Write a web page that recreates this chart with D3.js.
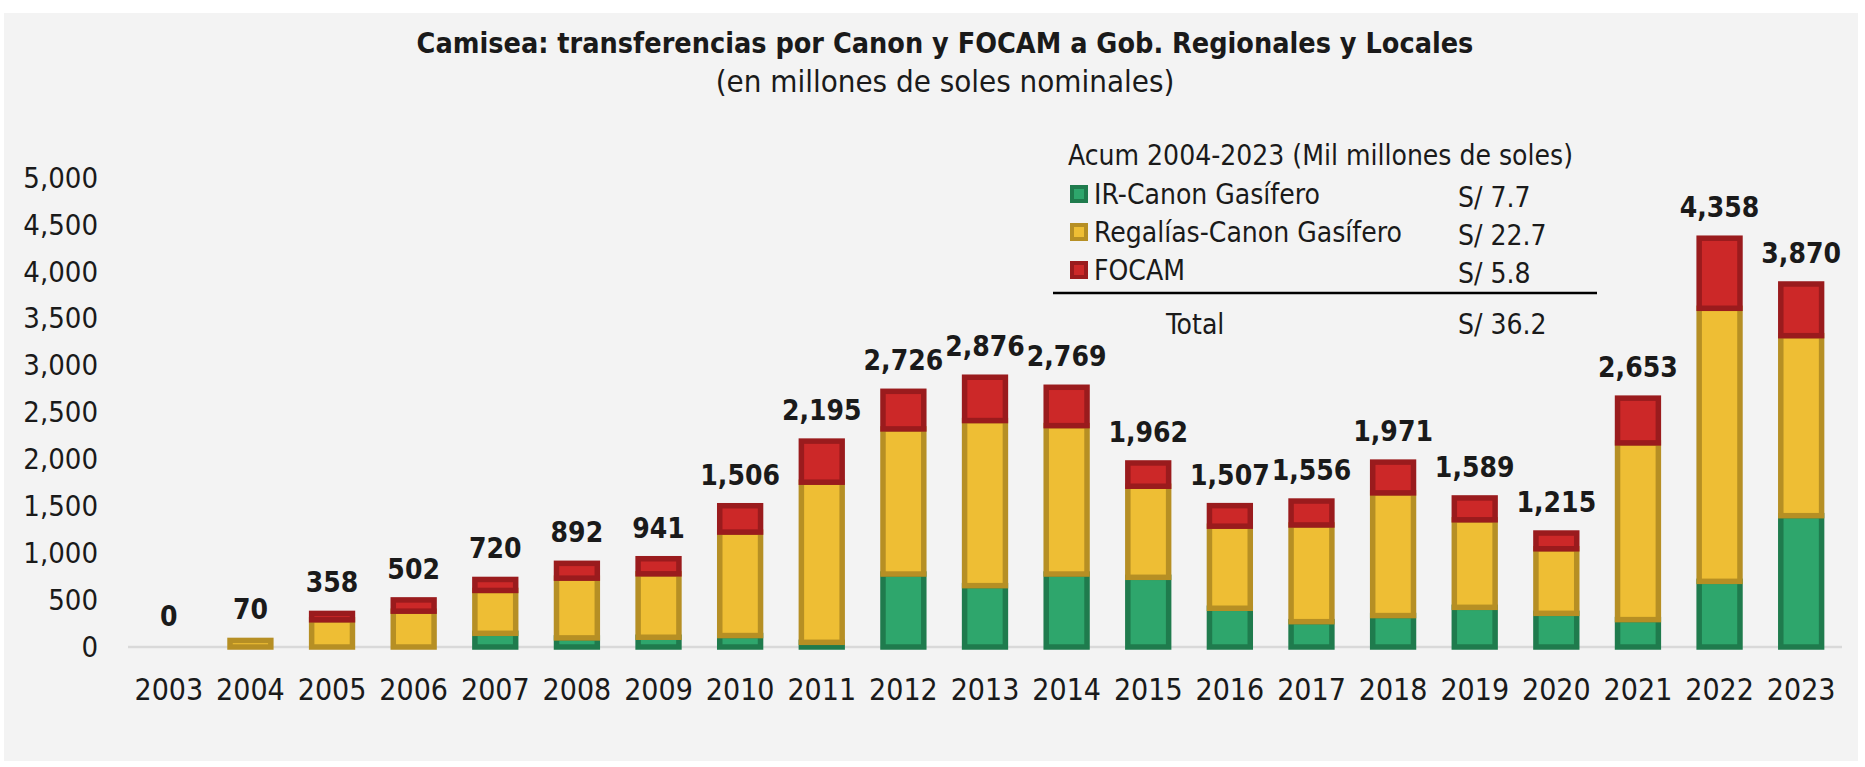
<!DOCTYPE html>
<html>
<head>
<meta charset="utf-8">
<script src="https://cdn.jsdelivr.net/npm/d3@7"></script>
<style>
  body { margin: 0; background: #ffffff; }
  text { font-family: "DejaVu Sans Condensed", "DejaVu Sans", sans-serif; fill: #1a1a1a; }
</style>
</head>
<body>
<div id="main"></div>
<script>
// data (millones de soles)
var years = ["2003","2004","2005","2006","2007","2008","2009","2010","2011","2012","2013",
             "2014","2015","2016","2017","2018","2019","2020","2021","2022","2023"];
var irCanon  = [0, 0, 0, 0, 146, 97, 104, 122, 50, 778, 654, 778, 743, 413, 270, 335, 423, 359, 292, 700, 1400];
var regalias = [0, 70, 290, 382, 457, 637, 676, 1103, 1707, 1547, 1760, 1582, 971, 875, 1031, 1308, 933, 688, 1884, 2911, 1919];
var focam    = [0, 0, 68, 120, 117, 158, 161, 281, 438, 401, 462, 409, 248, 219, 255, 328, 233, 168, 477, 747, 551];
var totals   = [0, 70, 358, 502, 720, 892, 941, 1506, 2195, 2726, 2876, 2769, 1962, 1507, 1556, 1971, 1589, 1215, 2653, 4358, 3870];
var yTicks   = [0, 500, 1000, 1500, 2000, 2500, 3000, 3500, 4000, 4500, 5000];

var seriesKeys   = ["ir", "reg", "focam"];
var legendNames  = ["IR-Canon Gasífero", "Regalías-Canon Gasífero", "FOCAM"];
var legendValues = ["S/ 7.7", "S/ 22.7", "S/ 5.8"];
var legendTitle  = "Acum 2004-2023 (Mil millones de soles)";
var legendTotal  = ["Total", "S/ 36.2"];

var fills   = {ir: "#2ea66c", reg: "#eebe34", focam: "#cc2828"};
var borders = {ir: "#1f7b4d", reg: "#b68f24", focam: "#9a1b1d"};

var width = 1865, height = 767;

var svg = d3.select("#main").append("svg")
    .attr("width", width)
    .attr("height", height);

svg.append("rect")
    .attr("x", 4).attr("y", 13)
    .attr("width", 1854).attr("height", 748)
    .attr("fill", "#f3f3f3");

// titles
svg.append("text")
    .attr("x", 945).attr("y", 53)
    .attr("text-anchor", "middle")
    .style("font-size", "28.5px").style("font-weight", "bold")
    .text("Camisea: transferencias por Canon y FOCAM a Gob. Regionales y Locales");
svg.append("text")
    .attr("x", 945).attr("y", 92)
    .attr("text-anchor", "middle")
    .style("font-size", "31px").style("font-weight", "300")
    .text("(en millones de soles nominales)");

var x = d3.scaleBand().domain(years).range([128, 1842]).paddingInner(0.5).paddingOuter(0.25);
var y = d3.scaleLinear().domain([0, 5000]).range([647, 178]);

var table = years.map(function(d, i) {
  return {year: d, ir: irCanon[i], reg: regalias[i], focam: focam[i], total: totals[i]};
});
var stacked = d3.stack().keys(seriesKeys)(table);

// y axis labels (no axis line, no ticks)
var yAxis = svg.append("g")
    .attr("transform", "translate(98,0)")
    .call(d3.axisLeft(y).tickValues(yTicks).tickFormat(d3.format(",")).tickSize(0).tickPadding(0));
yAxis.select(".domain").remove();
yAxis.selectAll("text").style("font-size", "29px").style("font-family", null).attr("fill", "#1a1a1a");

// baseline
svg.append("line")
    .attr("x1", 128).attr("x2", 1842)
    .attr("y1", y(0)).attr("y2", y(0))
    .attr("stroke", "#d9d9d9").attr("stroke-width", 2.5);

// x axis labels
var xAxis = svg.append("g")
    .attr("transform", "translate(0,679)")
    .call(d3.axisBottom(x).tickSize(0).tickPadding(0));
xAxis.select(".domain").remove();
xAxis.selectAll("text").style("font-size", "30px").style("font-family", null).attr("fill", "#1a1a1a");

// stacked bars, border straddles the edge like the original
var sw = 5.5;
svg.append("g").selectAll("g")
    .data(stacked)
    .enter().append("g")
    .attr("fill", function(s) { return fills[s.key]; })
    .attr("stroke", function(s) { return borders[s.key]; })
    .attr("stroke-width", sw)
    .selectAll("rect")
    .data(function(s) { return s.filter(function(p) { return p[1] > p[0]; }); })
    .enter().append("rect")
    .attr("x", function(p) { return x(p.data.year); })
    .attr("y", function(p) { return y(p[1]); })
    .attr("width", x.bandwidth())
    .attr("height", function(p) { return y(p[0]) - y(p[1]); });

// totals above bars
svg.append("g").selectAll("text")
    .data(table)
    .enter().append("text")
    .attr("x", function(d) { return x(d.year) + x.bandwidth() / 2; })
    .attr("y", function(d) { return y(d.total) - 21; })
    .attr("text-anchor", "middle")
    .style("font-size", "28px").style("font-weight", "bold")
    .text(function(d) { return d3.format(",")(d.total); });

// legend box
var legend = svg.append("g").attr("id", "legend");
legend.append("text")
    .attr("x", 1068).attr("y", 165)
    .style("font-size", "28px")
    .text(legendTitle);

var rows = legend.selectAll(".row")
    .data(seriesKeys)
    .enter().append("g")
    .attr("class", "row")
    .attr("transform", function(d, i) { return "translate(0," + (194 + i * 38) + ")"; });
rows.append("rect")
    .attr("x", 1072).attr("y", -7).attr("width", 14).attr("height", 14)
    .attr("fill", function(d) { return fills[d]; })
    .attr("stroke", function(d) { return borders[d]; })
    .attr("stroke-width", 4);
rows.append("text")
    .attr("x", 1094).attr("y", 10)
    .style("font-size", "28px")
    .text(function(d, i) { return legendNames[i]; });
rows.append("text")
    .attr("x", 1458).attr("y", 13)
    .style("font-size", "28px")
    .text(function(d, i) { return legendValues[i]; });

legend.append("line")
    .attr("x1", 1053).attr("x2", 1597)
    .attr("y1", 293).attr("y2", 293)
    .attr("stroke", "#000").attr("stroke-width", 2.5);
legend.append("text")
    .attr("x", 1166).attr("y", 334)
    .style("font-size", "28px")
    .text(legendTotal[0]);
legend.append("text")
    .attr("x", 1458).attr("y", 334)
    .style("font-size", "28px")
    .text(legendTotal[1]);
</script>
</body>
</html>
